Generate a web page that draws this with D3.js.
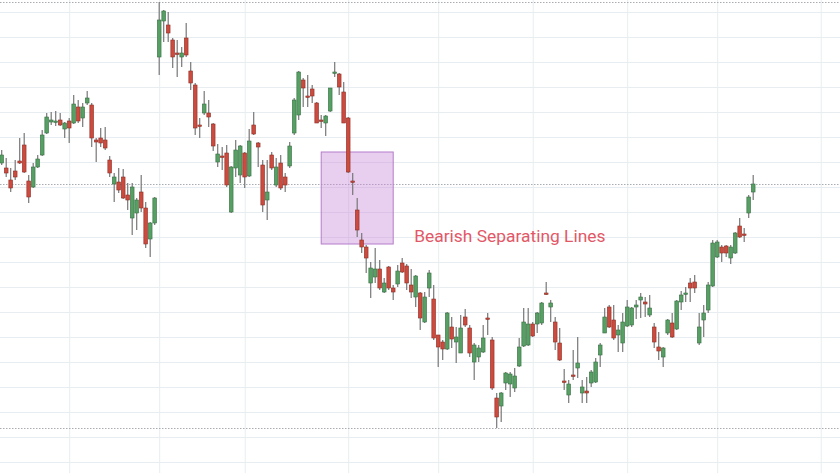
<!DOCTYPE html>
<html>
<head>
<meta charset="utf-8">
<script src="https://cdn.jsdelivr.net/npm/d3@7"></script>
<style>
  html, body { margin: 0; padding: 0; background: #fff; overflow: hidden; }
  svg { display: block; }
</style>
</head>
<body>
<svg id="chart" width="840" height="473"></svg>
<script>
// daily candles (price units are arbitrary)
const opens = [
  34.9, 34.4, 33.2, 34.1, 35.1, 36.7, 33.1, 32.5, 34.5, 35.7, 37.9, 39.0, 39.0, 39.2, 38.3, 39.1, 38.9, 40.5, 39.4, 40.9,
  40.7, 37.2, 37.4, 37.2, 35.2, 32.8, 33.0, 33.5, 31.7, 29.4, 29.9, 32.0, 30.4, 27.3, 28.9, 45.5, 49.1, 48.7, 47.2, 45.9,
  45.5, 47.4, 44.1, 42.7, 38.7, 39.9, 39.9, 38.8, 35.0, 35.6, 35.9, 30.0, 34.4, 33.7, 35.9, 33.6, 38.7, 36.9, 34.7, 31.2,
  35.7, 32.7, 34.9, 33.5, 34.6, 37.9, 39.7, 43.2, 41.6, 42.3, 40.9, 39.2, 38.9, 40.1, 43.9, 43.8, 42.0, 39.4, 33.1, 30.2,
  27.2, 26.5, 22.9, 23.5, 24.3, 22.0, 24.5, 22.4, 22.8, 24.9, 24.6, 22.7, 21.5, 21.9, 19.0, 22.4, 21.3, 17.7, 17.0, 16.3,
  18.5, 17.0, 15.9, 19.5, 18.4, 15.0, 15.5, 16.0, 19.4, 17.2, 11.4, 10.6, 12.9, 12.8, 12.4, 14.6, 16.6, 16.7, 18.8, 18.8,
  18.9, 21.9, 20.5, 19.0, 16.9, 13.1, 11.7, 13.7, 14.4, 11.9, 12.1, 12.9, 13.0, 15.7, 17.9, 20.5, 19.2, 17.7, 16.9, 18.6,
  18.7, 20.5, 21.2, 21.0, 19.7, 18.5, 16.5, 15.5, 17.9, 18.9, 18.3, 21.0, 21.8, 22.9, 23.0, 16.9, 19.2, 20.2, 22.6, 25.5,
  26.5, 26.6, 25.4, 25.9, 28.6, 27.8, 29.9, 32.0
];
const highs = [
  36.2, 35.4, 34.4, 35.2, 37.4, 37.9, 33.7, 34.9, 35.7, 38.2, 39.9, 40.0, 40.1, 39.9, 39.0, 39.4, 41.7, 41.2, 40.9, 42.1,
  40.9, 37.4, 38.4, 38.5, 35.6, 33.9, 34.4, 34.3, 32.9, 32.9, 31.4, 33.7, 31.0, 29.0, 31.5, 51.0, 50.2, 50.0, 47.4, 47.2,
  46.5, 48.9, 45.0, 42.9, 39.4, 42.1, 41.2, 38.9, 36.8, 36.5, 36.7, 34.6, 37.2, 36.7, 36.0, 38.3, 40.0, 37.0, 35.2, 35.2,
  36.0, 35.4, 35.7, 33.9, 37.0, 41.4, 44.1, 43.4, 43.7, 42.7, 41.0, 39.7, 39.7, 42.4, 45.0, 43.9, 43.0, 39.5, 33.9, 31.4,
  27.9, 26.7, 25.0, 26.4, 25.2, 23.4, 24.6, 22.7, 24.7, 25.4, 24.8, 24.3, 23.7, 22.0, 22.0, 24.2, 22.7, 17.7, 17.2, 20.0,
  19.5, 18.5, 19.7, 20.3, 18.7, 16.9, 16.7, 18.7, 19.9, 17.5, 11.9, 12.0, 14.0, 14.0, 14.4, 17.4, 20.4, 20.4, 19.0, 20.0,
  21.0, 23.0, 21.2, 19.5, 18.4, 14.3, 13.2, 16.2, 17.5, 13.2, 13.5, 14.2, 15.4, 16.9, 20.4, 20.7, 20.7, 18.7, 19.9, 21.2,
  20.5, 21.2, 21.9, 21.5, 21.7, 18.9, 18.0, 16.5, 19.3, 19.9, 21.2, 22.1, 22.5, 23.4, 23.7, 19.9, 20.7, 23.0, 27.2, 27.2,
  26.7, 26.7, 26.7, 28.0, 29.4, 28.4, 31.7, 33.7
];
const lows = [
  34.7, 33.5, 32.0, 33.2, 34.8, 33.9, 30.9, 32.4, 34.4, 35.6, 37.8, 38.7, 38.6, 38.6, 37.4, 36.9, 38.8, 38.9, 38.5, 40.7,
  36.5, 35.0, 36.5, 36.2, 33.5, 31.0, 31.9, 31.3, 30.2, 27.7, 28.2, 30.0, 26.4, 25.5, 28.7, 43.7, 47.0, 47.0, 44.4, 43.5,
  44.5, 45.5, 42.2, 37.7, 37.4, 39.7, 38.5, 36.1, 34.5, 34.2, 32.5, 29.9, 33.5, 32.9, 32.4, 33.5, 37.7, 34.5, 30.0, 29.2,
  34.2, 32.5, 32.2, 32.0, 34.4, 37.7, 39.2, 40.5, 40.5, 40.9, 38.9, 38.4, 37.6, 40.0, 43.5, 41.7, 38.9, 33.9, 31.7, 27.5,
  25.9, 23.9, 21.4, 22.9, 22.2, 21.9, 22.2, 21.2, 22.5, 23.9, 22.2, 21.4, 20.5, 18.2, 18.9, 21.5, 17.2, 14.5, 15.2, 16.2,
  16.4, 14.9, 15.9, 18.5, 15.5, 13.2, 15.0, 15.9, 17.7, 12.2, 8.4, 9.0, 12.2, 11.5, 12.0, 14.5, 16.5, 16.6, 17.5, 17.9,
  18.7, 21.7, 19.0, 16.2, 15.1, 12.2, 10.9, 13.2, 13.4, 10.9, 10.9, 12.5, 12.9, 14.5, 17.9, 18.4, 17.2, 16.0, 16.0, 18.5,
  18.5, 19.3, 19.4, 19.5, 19.5, 16.4, 15.2, 14.5, 17.7, 17.4, 18.2, 20.2, 21.0, 21.0, 21.9, 16.7, 17.5, 19.9, 22.5, 25.4,
  25.0, 25.5, 24.8, 25.8, 27.4, 27.0, 29.4, 31.2
];
const closes = [
  35.7, 33.9, 32.4, 33.5, 34.9, 34.0, 31.5, 34.5, 35.3, 37.7, 39.5, 39.2, 39.1, 38.7, 38.9, 38.4, 40.8, 39.1, 40.5, 41.4,
  37.4, 37.0, 36.9, 36.4, 33.9, 33.5, 32.2, 31.4, 31.2, 32.5, 31.2, 30.4, 26.8, 28.9, 31.4, 49.2, 50.1, 47.9, 45.5, 45.8,
  45.9, 45.7, 42.9, 38.4, 38.6, 40.8, 39.5, 36.6, 35.8, 35.5, 32.7, 34.5, 36.2, 36.6, 33.5, 37.1, 37.8, 36.5, 30.7, 32.0,
  34.4, 34.5, 32.4, 32.7, 36.6, 41.2, 44.0, 42.4, 41.5, 41.6, 38.9, 39.1, 39.6, 42.4, 44.0, 42.5, 38.9, 34.0, 33.0, 28.2,
  26.5, 25.4, 24.4, 24.3, 22.4, 22.9, 22.4, 22.0, 24.1, 24.0, 22.9, 22.0, 23.6, 19.4, 21.5, 23.9, 17.4, 16.5, 16.3, 19.9,
  17.3, 17.5, 18.4, 18.7, 15.9, 16.7, 16.4, 17.4, 19.3, 12.4, 9.5, 11.9, 13.9, 13.8, 13.6, 16.5, 19.0, 18.8, 17.6, 19.9,
  20.9, 21.8, 20.9, 17.0, 15.2, 13.0, 12.8, 13.6, 14.9, 12.5, 11.9, 14.0, 15.0, 16.7, 19.5, 18.5, 17.4, 18.2, 19.0, 20.5,
  20.4, 20.7, 21.5, 20.8, 20.4, 17.0, 16.1, 16.4, 19.2, 17.5, 21.1, 21.7, 21.9, 22.4, 22.4, 18.5, 19.9, 22.7, 26.9, 27.0,
  25.9, 25.9, 26.5, 27.9, 27.5, 27.7, 31.5, 32.8
];

// horizontal grid levels and the sessions where a new month starts
const priceTicks = d3.range(5, 50.01, 2.5);
const monthStarts = [15, 35, 54, 77, 97, 118, 139, 159, 182];

// pattern highlighted on the chart
const highlight = { from: 71, to: 87, top: 36.0, bottom: 26.8, label: "Bearish Separating Lines" };

const candles = opens.map((o, i) => ({ i: i, o: o, h: highs[i], l: lows[i], c: closes[i] }));

const svg = d3.select("#chart");
const width = 840, height = 473;

const x = d3.scaleLinear().domain([0, candles.length - 1]).range([1.7, 753.2]);
const y = d3.scaleLinear().domain([5, 50]).range([462, 12]);
const bodyW = 3.7;

// grid
svg.append("g")
    .attr("class", "grid-y")
    .call(d3.axisLeft(y).tickValues(priceTicks).tickSize(-width).tickFormat(""))
    .call(g => g.select(".domain").remove())
    .call(g => g.selectAll("line").attr("stroke", "#e7edf0").attr("stroke-width", 1));

svg.append("g")
    .attr("class", "grid-x")
    .attr("transform", "translate(0," + height + ")")
    .call(d3.axisBottom(x).tickValues(monthStarts).tickSize(-height).tickFormat(""))
    .call(g => g.select(".domain").remove())
    .call(g => g.selectAll("line").attr("stroke", "#e7edf0").attr("stroke-width", 1));

// reference levels: highest high, last close, lowest low
const levels = [d3.max(highs), closes[closes.length - 1], d3.min(lows)];
svg.append("g").selectAll("line")
    .data(levels)
    .enter().append("line")
    .attr("x1", 0).attr("x2", width)
    .attr("y1", d => Math.round(y(d)) + 0.5)
    .attr("y2", d => Math.round(y(d)) + 0.5)
    .attr("stroke", "#a9adb2")
    .attr("stroke-dasharray", "1.5,1.5");

// highlight box
svg.append("rect")
    .attr("x", x(highlight.from))
    .attr("y", y(highlight.top))
    .attr("width", x(highlight.to) - x(highlight.from))
    .attr("height", y(highlight.bottom) - y(highlight.top))
    .attr("fill", "#c98ad8")
    .attr("fill-opacity", 0.42)
    .attr("stroke", "#b67ccb")
    .attr("stroke-width", 1);

// candles
const up = "#56a064", down = "#cc4b3e";
const g = svg.append("g").attr("class", "candles");

g.selectAll(".wick")
    .data(candles)
    .enter().append("line")
    .attr("class", "wick")
    .attr("x1", d => x(d.i)).attr("x2", d => x(d.i))
    .attr("y1", d => y(d.h)).attr("y2", d => y(d.l))
    .attr("stroke", "#777")
    .attr("stroke-width", 1.2);

g.selectAll(".body")
    .data(candles)
    .enter().append("rect")
    .attr("class", "body")
    .attr("x", d => x(d.i) - bodyW / 2)
    .attr("y", d => y(Math.max(d.o, d.c)))
    .attr("width", bodyW)
    .attr("height", d => Math.max(1.4, Math.abs(y(d.o) - y(d.c))))
    .attr("fill", d => d.c >= d.o ? up : down)
    .attr("stroke", d => d.c >= d.o ? "#3a6d44" : "#8a3027")
    .attr("stroke-width", 0.6);

// label
svg.append("text")
    .attr("x", x(highlight.to) + 21)
    .attr("y", y(highlight.bottom) - 2)
    .attr("font-family", "Roboto, 'Noto Sans', sans-serif")
    .attr("font-size", 17.4)
    .attr("fill", "#e25867")
    .text(highlight.label);
</script>
</body>
</html>
